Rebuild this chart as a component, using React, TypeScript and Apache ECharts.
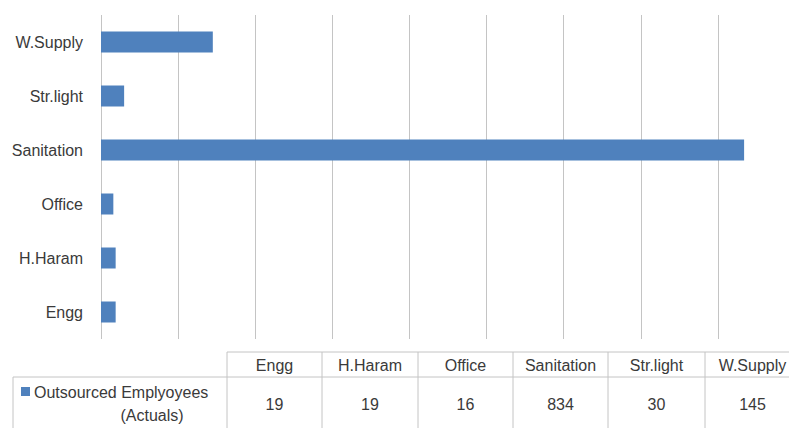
import React, { useEffect, useRef } from "react";
import * as echarts from "echarts";

const categories = ["Engg", "H.Haram", "Office", "Sanitation", "Str.light", "W.Supply"];
const values = [19, 19, 16, 834, 30, 145];
const seriesName = "Outsourced Emplyoyees";
const seriesNameLine2 = "(Actuals)";
const axisMax = 900;
const axisInterval = 100;

const FONT = "'Liberation Sans', Arial, sans-serif";
const TEXT_COLOR = "#3a3a3a";
const LINE_COLOR = "#c4c4c4";
const BAR_COLOR = "#4F81BD";

// table layout
const colBorders = [227, 322, 418, 513, 608, 705, 800];
const tableTop = 352;
const headerBottom = 377;
const tableBottom = 440;
const rowLeft = 13;

export default function App() {
  const ref = useRef<HTMLDivElement>(null);

  useEffect(() => {
    if (!ref.current) return;
    const chart = echarts.init(ref.current, undefined, { renderer: "svg" });

    const lineStyle = { stroke: LINE_COLOR, lineWidth: 1 };
    const graphics: any[] = [];
    graphics.push({ type: "line", shape: { x1: colBorders[0], y1: tableTop, x2: 800, y2: tableTop }, style: lineStyle });
    graphics.push({ type: "line", shape: { x1: rowLeft, y1: headerBottom, x2: 800, y2: headerBottom }, style: lineStyle });
    graphics.push({ type: "line", shape: { x1: rowLeft, y1: headerBottom, x2: rowLeft, y2: tableBottom }, style: lineStyle });
    colBorders.forEach((x) => {
      graphics.push({ type: "line", shape: { x1: x, y1: tableTop, x2: x, y2: tableBottom }, style: lineStyle });
    });
    categories.forEach((c, i) => {
      const cx = (colBorders[i] + colBorders[i + 1]) / 2;
      graphics.push({
        type: "text",
        x: cx,
        y: (tableTop + headerBottom) / 2 + 1,
        style: { text: c, font: `16px ${FONT}`, fill: TEXT_COLOR, align: "center", verticalAlign: "middle" },
      });
      graphics.push({
        type: "text",
        x: cx,
        y: 404,
        style: { text: String(values[i]), font: `16px ${FONT}`, fill: TEXT_COLOR, align: "center", verticalAlign: "middle" },
      });
    });
    graphics.push({ type: "rect", shape: { x: 21, y: 387, width: 9, height: 9 }, style: { fill: BAR_COLOR } });
    graphics.push({
      type: "text",
      x: 34,
      y: 392,
      style: { text: seriesName, font: `16px ${FONT}`, fill: TEXT_COLOR, align: "left", verticalAlign: "middle" },
    });
    graphics.push({
      type: "text",
      x: 152,
      y: 415,
      style: { text: seriesNameLine2, font: `16px ${FONT}`, fill: TEXT_COLOR, align: "center", verticalAlign: "middle" },
    });

    chart.setOption({
      animation: false,
      backgroundColor: "#ffffff",
      grid: { left: 101, top: 15, width: 694, height: 324, containLabel: false },
      xAxis: {
        type: "value",
        min: 0,
        max: axisMax,
        interval: axisInterval,
        axisLabel: { show: false },
        axisLine: { show: false },
        axisTick: { show: false },
        splitLine: { show: true, lineStyle: { color: LINE_COLOR, width: 1 } },
      },
      yAxis: {
        type: "category",
        data: categories,
        axisLine: { show: false },
        axisTick: { show: false },
        splitLine: { show: false },
        axisLabel: { fontSize: 16, fontFamily: FONT, color: TEXT_COLOR, margin: 18 },
      },
      series: [
        {
          type: "bar",
          name: seriesName,
          data: values,
          barWidth: 21,
          itemStyle: { color: BAR_COLOR },
        },
      ],
      graphic: graphics,
    });

    return () => chart.dispose();
  }, []);

  return (
    <div style={{ position: "absolute", left: 0, top: 0, width: 789, height: 428, overflow: "hidden", background: "#fff" }}>
      <div ref={ref} style={{ width: 800, height: 428 }} />
    </div>
  );
}
